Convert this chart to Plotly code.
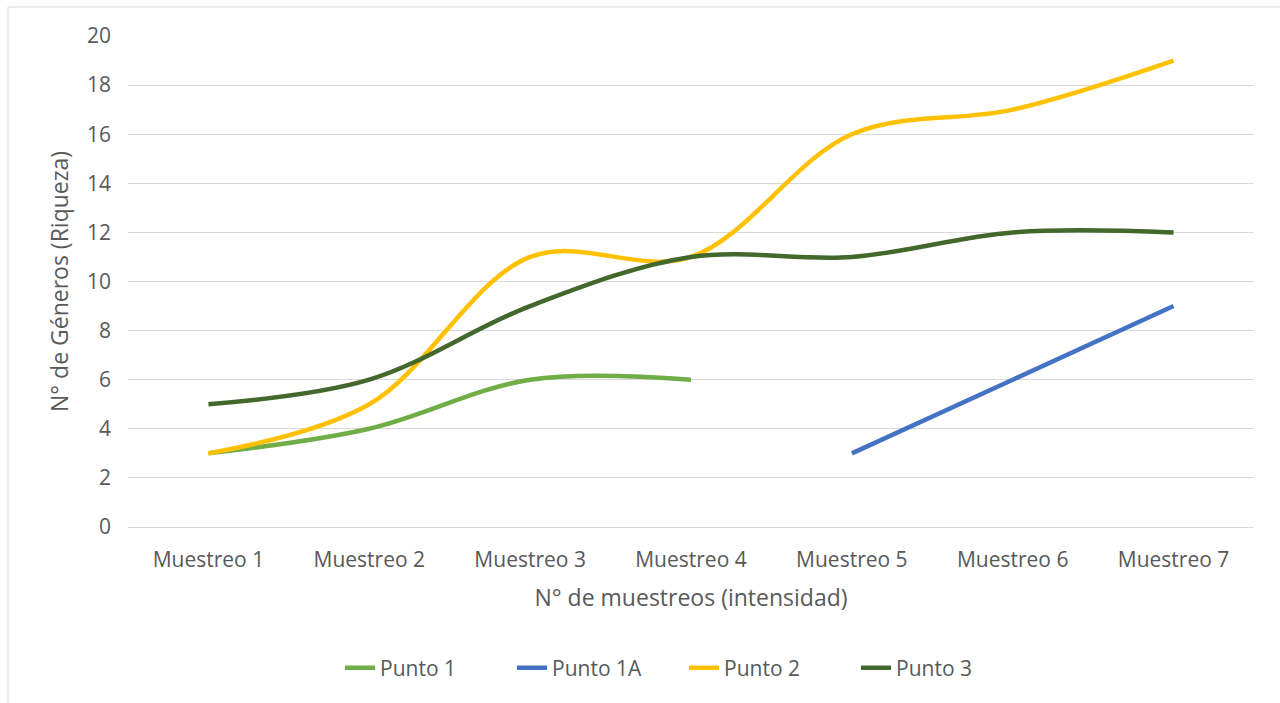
import plotly.graph_objects as go

categories = ["Muestreo 1", "Muestreo 2", "Muestreo 3", "Muestreo 4", "Muestreo 5", "Muestreo 6", "Muestreo 7"]
punto_1 = [3, 4, 6, 6, None, None, None]
punto_1a = [None, None, None, None, 3, 6, 9]
punto_2 = [3, 5, 11, 11, 16, 17, 19]
punto_3 = [5, 6, 9, 11, 11, 12, 12]

series = [
    ("Punto 1", punto_1, "#70AD47"),
    ("Punto 1A", punto_1a, "#4472C4"),
    ("Punto 2", punto_2, "#FFC000"),
    ("Punto 3", punto_3, "#43682B"),
]

FONT = "Open Sans, Noto Sans, sans-serif"
TXT = "#595959"

fig = go.Figure()
for name, vals, col in series:
    fig.add_trace(go.Scatter(
        x=categories, y=vals, name=name, mode="lines",
        line=dict(color=col, width=4.5, shape="spline", smoothing=1.0),
        connectgaps=False,
    ))

W, H = 1280, 703
L, R, T, B = 128, 26, 36, 176
pw, ph = W - L - R, H - T - B

fig.update_layout(
    width=W, height=H,
    margin=dict(l=L, r=R, t=T, b=B),
    paper_bgcolor="white", plot_bgcolor="white",
    font=dict(family=FONT, color=TXT, size=21),
    showlegend=True,
    legend=dict(
        orientation="h", x=(340 - L) / pw, xanchor="left", y=(527 - 668) / ph, yanchor="middle",
        font=dict(size=21, color=TXT), entrywidth=127, entrywidthmode="pixels",
    ),
    xaxis=dict(
        type="category", range=[-0.5, 6.5], showgrid=False, showline=False, zeroline=False,
        ticks="", tickfont=dict(size=21, color=TXT), ticklabelstandoff=18,
        title=dict(text="N° de muestreos (intensidad)", font=dict(size=23, color=TXT), standoff=17),
    ),
    yaxis=dict(
        range=[0, 20], dtick=2, showgrid=True, gridcolor="#D9D9D9", gridwidth=1,
        zeroline=True, zerolinecolor="#D9D9D9", zerolinewidth=1, showline=False,
        ticks="", tickfont=dict(size=21, color=TXT), ticklabelstandoff=16,
        title=dict(text="N° de Géneros (Riqueza)", font=dict(size=23, color=TXT), standoff=11),
    ),
    shapes=[dict(
        type="rect", xref="paper", yref="paper",
        x0=(8 - L) / pw, x1=1.2, y0=-1.0, y1=(527 - 7) / ph,
        line=dict(color="#D9D9D9", width=1), fillcolor="rgba(0,0,0,0)", layer="below",
    )],
)

fig.write_html("out.html")
